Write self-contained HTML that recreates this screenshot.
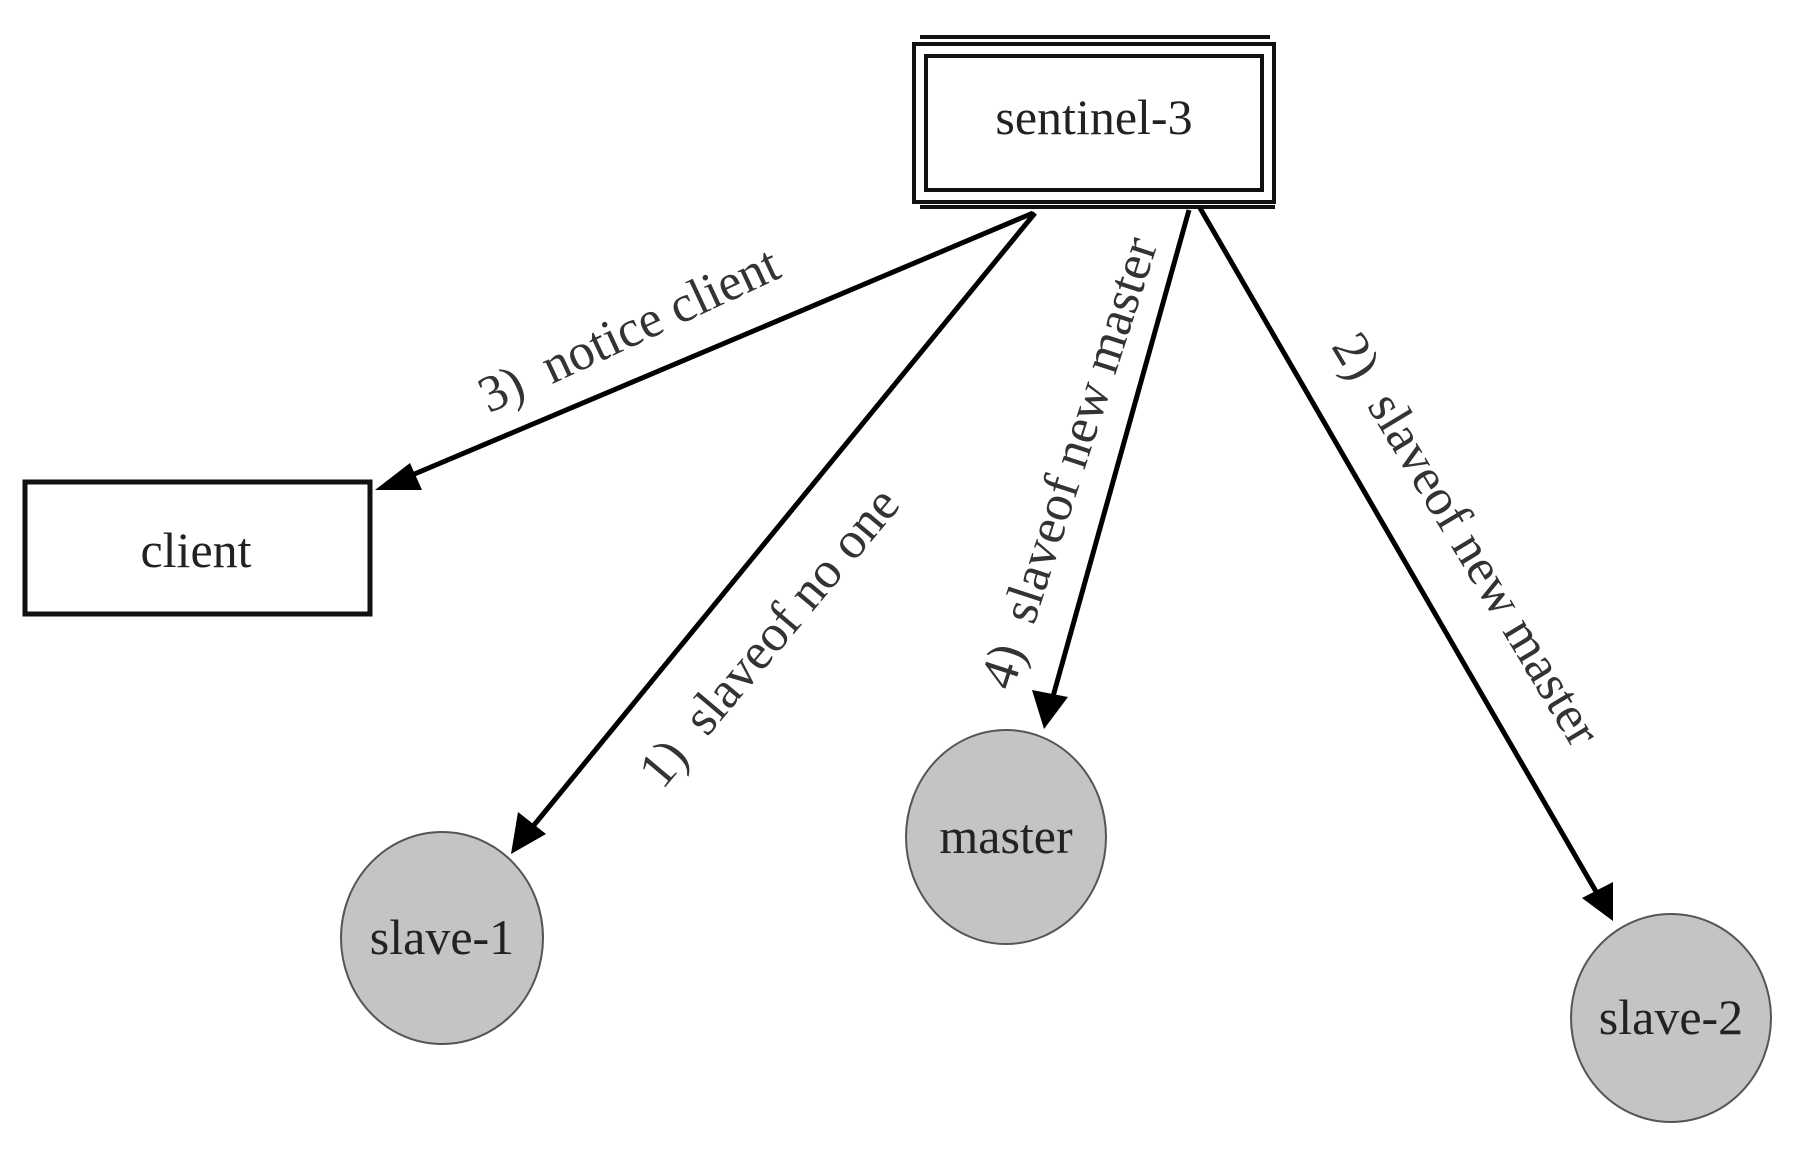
<!DOCTYPE html>
<html><head><meta charset="utf-8"><style>
html,body{margin:0;padding:0;background:#fff;}
svg{display:block;}
text{font-family:"Liberation Serif",serif;}
</style></head><body>
<svg width="1800" height="1160" viewBox="0 0 1800 1160" xmlns="http://www.w3.org/2000/svg">
<!-- sentinel-3 double box -->
<g fill="none" stroke="#111" stroke-width="4">
<rect x="914" y="44" width="360" height="158"/>
<rect x="926" y="56" width="336" height="134"/>
<line x1="920" y1="37" x2="1270" y2="37"/>
<line x1="920" y1="207" x2="1275" y2="207"/>
</g>
<text x="1094" y="134" font-size="50" text-anchor="middle" fill="#222">sentinel-3</text>
<!-- client box -->
<g fill="none" stroke="#111" stroke-width="5">
<rect x="25" y="482" width="345" height="132"/>
</g>
<text x="196" y="567" font-size="50" text-anchor="middle" fill="#222">client</text>
<!-- circles -->
<g fill="#c4c4c4" stroke="#555" stroke-width="2">
<ellipse cx="442" cy="938" rx="101" ry="106"/>
<ellipse cx="1006" cy="837" rx="100" ry="107"/>
<ellipse cx="1671" cy="1018" rx="100" ry="104"/>
</g>
<g font-size="50" text-anchor="middle" fill="#222">
<text x="442" y="954">slave-1</text>
<text x="1006" y="853">master</text>
<text x="1671" y="1034">slave-2</text>
</g>
<!-- arrows -->
<g stroke="#000" stroke-width="5">
<line x1="1033" y1="213" x2="405" y2="478"/>
<line x1="1035" y1="213" x2="530" y2="830"/>
<line x1="1189" y1="210" x2="1052" y2="700"/>
<line x1="1200" y1="208" x2="1598" y2="895"/>
</g>
<g fill="#000">
<polygon points="375,490 410,463 422,490"/>
<polygon points="511,854 518,812 546,834"/>
<polygon points="1044,729 1032,690 1068,697"/>
<polygon points="1613,921 1582,898 1613,882"/>
</g>
<!-- labels -->
<g font-size="52" fill="#333" text-anchor="middle">
<text transform="translate(636,345) rotate(-25)">3)&#160;&#160;notice client</text>
<text transform="translate(782,648) rotate(-50)">1)&#160;&#160;slaveof no one</text>
<text transform="translate(1085,468) rotate(-72)">4)&#160;&#160;slaveof new master</text>
<text transform="translate(1452,548) rotate(59)">2)&#160;&#160;slaveof new master</text>
</g>
</svg>
</body></html>
